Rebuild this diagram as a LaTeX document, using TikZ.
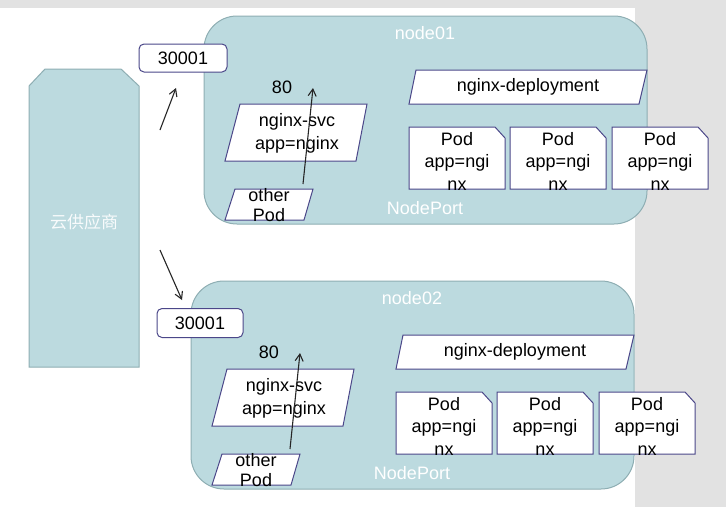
\documentclass[tikz,border=0pt]{standalone}
\usepackage{fontspec}
\setmainfont{Liberation Sans}
\newfontfamily\cjkfont{Noto Sans CJK SC}
\usetikzlibrary{arrows.meta}

\definecolor{hostfill}{HTML}{BCDADF}
\definecolor{hostedge}{HTML}{8EAEB3}
\definecolor{shapeedge}{HTML}{4B4789}
\definecolor{deskgrey}{HTML}{E2E2E2}

\tikzset{
  hostbox/.style={fill=hostfill, draw=hostedge, line width=1pt, rounded corners=33pt, inner sep=0pt},
  shapeline/.style={draw=shapeedge, fill=white, line width=1pt},
  portbox/.style={draw=shapeedge, fill=white, line width=1pt, rounded corners=5pt, inner sep=0pt,
    font=\fontsize{18}{21}\selectfont},
  lbl/.style={font=\fontsize{18}{22.5}\selectfont, text=black, inner sep=0pt, align=center},
  wlbl/.style={font=\fontsize{18}{21}\selectfont, text=white, inner sep=0pt},
  flow/.style={draw=black!85, line width=1.1pt, -{Straight Barb[length=7pt,width=8pt]}},
}

% one worker host with its service, deployment and pods
\newcommand\hostgroup[2]{%
  \node[hostbox, minimum width=443pt, minimum height=208pt] (host#1) at (425.5,120) {};
  \node[wlbl] (hostname#1) at (425,33) {#2};
  \node[wlbl] (nodeport#1) at (425,208) {NodePort};
  % service
  \draw[shapeline] (240,104) -- (367,104) -- (356,161) -- (225,161) -- cycle;
  \node[lbl, font=\fontsize{18}{23}\selectfont] (svc#1) at (297,133) {nginx-svc\\app=nginx};
  \node[lbl] (port#1) at (282,87) {80};
  % other pod
  \draw[shapeline] (235,189) -- (313,189) -- (304,220) -- (225,220) -- cycle;
  \node[lbl, font=\fontsize{18}{20}\selectfont] (other#1) at (269,205) {other\\Pod};
  % deployment
  \draw[shapeline] (416,70) -- (647,70) -- (639,104) -- (409,104) -- cycle;
  \node[lbl] (deploy#1) at (528,87) {nginx-deployment};
  % pods
  \foreach \px/\pn in {409/1,510/2,612/3}{
    \draw[shapeline] (\px,127) -- ({\px+86},127) -- ({\px+96},138) -- ({\px+96},189)
      -- (\px,189) -- cycle;
    \node[lbl] (pod#1\pn) at ({\px+48},161) {Pod\\app=ngi\\nx};
  }
  % traffic from the other pod up through the service
  \coordinate (src#1) at (303,184);
  \coordinate (dst#1) at (313,88);
  \draw[flow] (src#1) -- (dst#1);
}

\begin{document}
\begin{tikzpicture}[x=1pt,y=-1pt]
  % desk and slide
  \fill[deskgrey] (0,0) rectangle (726,507);
  \fill[white] (0,8) rectangle (635,507);
  \useasboundingbox (0,0) rectangle (726,507);

  % cloud provider
  \draw[fill=hostfill, draw=hostedge, line width=1pt]
    (45,69) -- (121,69) -- (139,86) -- (139,367) -- (29,367) -- (29,86) -- cycle;
  \node[wlbl, text=white!90!hostfill, font=\cjkfont\fontsize{17}{20}\selectfont] (cloud) at (84,222) {云供应商};

  % hosts
  \begin{scope}
    \hostgroup{a}{node01}
  \end{scope}
  \begin{scope}[shift={(-13,265)}]
    \hostgroup{b}{node02}
  \end{scope}

  % node ports
  \node[portbox, minimum width=88pt, minimum height=28pt] (porta) at (183,58) {30001};
  \node[portbox, minimum width=86pt, minimum height=29pt] (portb) at (200,323) {30001};

  % traffic from the cloud provider to the node ports
  \coordinate (ca) at (160,130);
  \coordinate (ta) at (176,88);
  \coordinate (cb) at (160,250);
  \coordinate (tb) at (182,300);
  \draw[flow] (ca) -- (ta);
  \draw[flow] (cb) -- (tb);
\end{tikzpicture}
\end{document}
